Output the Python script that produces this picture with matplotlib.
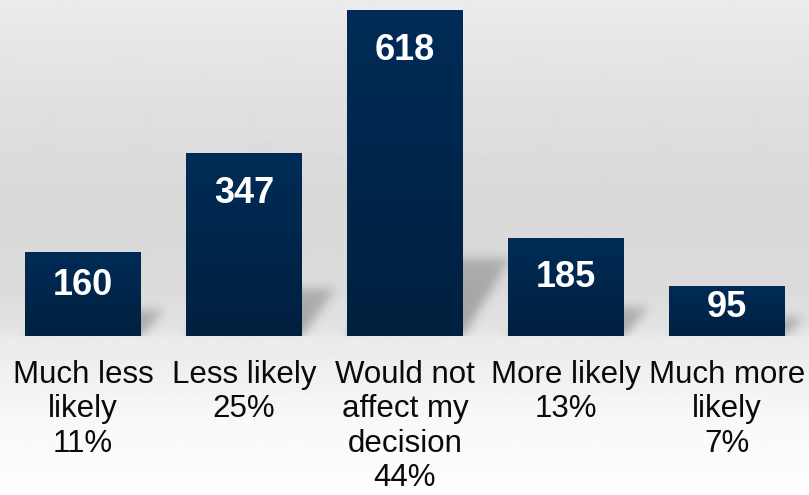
import numpy as np
import matplotlib.pyplot as plt
from matplotlib.colors import LinearSegmentedColormap

categories = ["Much less\nlikely", "Less likely", "Would not\naffect my\ndecision",
              "More likely", "Much more\nlikely"]
counts = [160, 347, 618, 185, 95]
percents = ["11%", "25%", "44%", "13%", "7%"]

W, H, DPI = 809, 495, 100
fig = plt.figure(figsize=(W / DPI, H / DPI), dpi=DPI)

# page background: grey gradient behind the bars, fading to white under the labels
bg = fig.add_axes([0, 0, 1, 1], zorder=0)
bg.set_axis_off()
ys = np.array([0, 100, 200, 290, 325, 336, 337, 350, 420, 495])
vs = np.array([236, 224, 217, 219, 226, 231, 236, 236, 248, 254]) / 255
col = np.interp(np.arange(H), ys, vs)
bg.imshow(np.repeat(col[:, None], 2, axis=1), cmap="gray", vmin=0, vmax=1,
          aspect="auto", extent=[0, 1, 0, 1], interpolation="bilinear")

base_px = 336
ax = fig.add_axes([0, (H - base_px) / H, 1, base_px / H], zorder=1)
ax.set_axis_off()
ax.patch.set_alpha(0)
x = np.arange(len(counts))
width = 0.72
xlim = (-83 / 161, (W - 83) / 161)
ylim = (0, 637)
ax.set_xlim(*xlim)
ax.set_ylim(*ylim)

# soft shadows cast up and to the right of each bar (worked out in pixels)
sx = W / (xlim[1] - xlim[0])
sy = base_px / (ylim[1] - ylim[0])
PX, PY = np.meshgrid(np.arange(W) + 0.5, np.arange(base_px)[::-1] + 0.5)
mask = np.zeros((base_px, W))
for xi, h in zip(x, counts):
    h_px = h * sy
    hs = 8 + 0.215 * h_px
    dx = 15 + 0.1 * h_px
    x0 = (xi - width / 2 - xlim[0]) * sx
    x1 = (xi + width / 2 - xlim[0]) * sx
    t = PY / hs
    inside = (PY <= hs) & (PX >= x0 + dx * t) & (PX <= x1 + dx * t)
    mask = np.maximum(mask, inside * (1 - 0.25 * t))
k = np.exp(-0.5 * (np.arange(-15, 16) / 5.0) ** 2)
k /= k.sum()
for axis in (0, 1):
    mask = np.apply_along_axis(lambda r: np.convolve(r, k, mode="same"), axis, mask)
shadow = np.zeros((base_px, W, 4))
shadow[..., 3] = np.clip(mask, 0, 1) * 0.28
ax.imshow(shadow, extent=[xlim[0], xlim[1], ylim[0], ylim[1]], aspect="auto",
          zorder=1, interpolation="bilinear")

# bars with a slight vertical gradient
bar_cmap = LinearSegmentedColormap.from_list("navy", ["#00203f", "#002c57"])
bars = ax.bar(x, counts, width=width, color="#002850", zorder=2)
grad = np.linspace(0, 1, 256)[:, None]
for b in bars:
    im = ax.imshow(grad, cmap=bar_cmap, aspect="auto", origin="lower",
                   extent=[b.get_x(), b.get_x() + b.get_width(), 0, b.get_height()],
                   zorder=3)
    im.set_clip_path(b)

# value labels near the top of each bar, kept inside short bars
for xi, v in zip(x, counts):
    ax.text(xi, max(v - 70, 0.64 * v), str(v), ha="center", va="center_baseline",
            color="white", fontsize=26, fontweight="bold",
            family="Liberation Sans", zorder=4)

ax.set_xlim(*xlim)
ax.set_ylim(*ylim)

# category labels with their share underneath
for xi, cat, pct in zip(x, categories, percents):
    xf = (83 + 161 * xi) / W
    fig.text(xf, (H - 360) / H, cat + "\n" + pct, ha="center", va="top",
             fontsize=22.5, family="Liberation Sans", color="#0a0a0a",
             linespacing=1.19, zorder=5)

fig.savefig("out.png", dpi=DPI)
